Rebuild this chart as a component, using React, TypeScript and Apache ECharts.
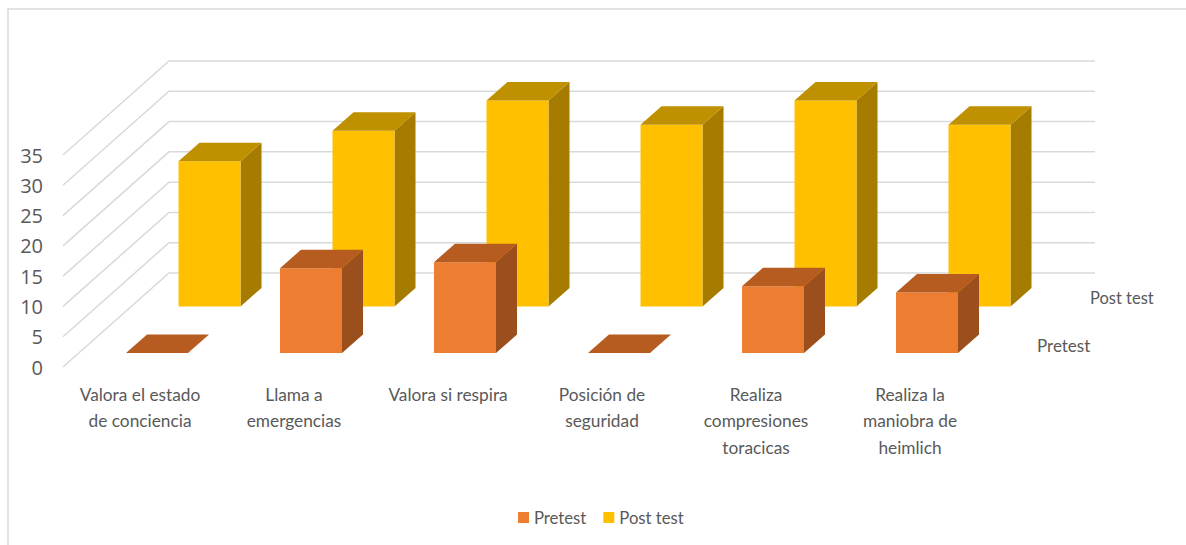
import React, { useEffect, useRef } from "react";
import * as echarts from "echarts";

const categories = [
  "Valora el estado\nde conciencia",
  "Llama a\nemergencias",
  "Valora si respira",
  "Posición de\nseguridad",
  "Realiza\ncompresiones\ntoracicas",
  "Realiza la\nmaniobra de\nheimlich",
];
const pretest = [0, 14, 15, 0, 11, 10];
const postTest = [24, 29, 34, 30, 34, 30];
const wallTicks = [0, 5, 10, 15, 20, 25, 30, 35];

const FONT = "Lato, 'Open Sans', sans-serif";
const TICK_FONT = "'Open Sans', Lato, sans-serif";
const TEXT = "#595959";
const WALL = "#d9d9d9";

// Oblique projection of the chart's depth axis, in pixels.
const WALL_DX = 106;
const WALL_DY = 94;
const WALL_OVERHANG = 2;
const BAR_HALF = 31;
const BAR_DX = 21;
const BAR_DY = 18.5;

function poly(points: number[][], fill: string) {
  return { type: "polygon", shape: { points }, style: { fill, stroke: null } };
}

// One box: the row offset shifts it along the depth axis, then the value sets its height.
function boxRenderer(rowDx: number, rowDy: number, front: string, top: string, side: string) {
  return (_params: any, api: any) => {
    const cat = api.value(0);
    const [cx, zeroY] = api.coord([cat, 0]);
    const [, valueY] = api.coord([cat, api.value(1)]);
    const l = cx + rowDx - BAR_HALF;
    const r = cx + rowDx + BAR_HALF;
    const b = zeroY - rowDy;
    const t = valueY - rowDy;
    const children: any[] = [];
    if (b - t > 0.01) {
      children.push(poly([[r, t], [r + BAR_DX, t - BAR_DY], [r + BAR_DX, b - BAR_DY], [r, b]], side));
      children.push({ type: "rect", shape: { x: l, y: t, width: r - l, height: b - t }, style: { fill: front } });
    }
    children.push(poly([[l, t], [l + BAR_DX, t - BAR_DY], [r + BAR_DX, t - BAR_DY], [r, t]], top));
    return { type: "group", children };
  };
}

// Side wall diagonal and back wall line for a value tick.
function wallRenderer(params: any, api: any) {
  const sys = params.coordSys;
  const y = api.coord([0, api.value(1)])[1];
  return {
    type: "polyline",
    shape: {
      points: [
        [sys.x, y],
        [sys.x + WALL_DX, y - WALL_DY],
        [sys.x + sys.width + WALL_DX + WALL_OVERHANG, y - WALL_DY],
      ],
    },
    style: { stroke: WALL, lineWidth: 1.5, fill: null },
  };
}

export default function App() {
  const ref = useRef<HTMLDivElement>(null);

  useEffect(() => {
    const chart = echarts.init(ref.current!, undefined, { renderer: "svg" });
    chart.setOption({
      animation: false,
      backgroundColor: "#ffffff",
      textStyle: { fontFamily: FONT },
      legend: {
        data: ["Pretest", "Post test"],
        left: 513,
        top: 504,
        itemWidth: 11,
        itemHeight: 11,
        itemGap: 17,
        icon: "rect",
        textStyle: { color: TEXT, fontSize: 16.7, fontFamily: FONT },
      },
      grid: { left: 63, top: 155, width: 924, height: 212 },
      xAxis: {
        type: "category",
        data: categories,
        axisLine: { show: false },
        axisTick: { show: false },
        splitLine: { show: false },
        axisLabel: {
          interval: 0,
          color: TEXT,
          fontFamily: FONT,
          fontSize: 17.3,
          lineHeight: 26.5,
          margin: 14,
        },
      },
      yAxis: {
        type: "value",
        min: 0,
        max: 35,
        interval: 5,
        axisLine: { show: false },
        axisTick: { show: false },
        splitLine: { show: false },
        axisLabel: { color: TEXT, fontFamily: TICK_FONT, fontSize: 20, margin: 20 },
      },
      graphic: [
        {
          type: "rect",
          shape: { x: 8, y: 9, width: 1400, height: 800 },
          style: { fill: "none", stroke: WALL, lineWidth: 1.5 },
          silent: true,
        },
        {
          type: "text",
          x: 1090,
          y: 298,
          style: { text: "Post test", fill: TEXT, font: `16.5px ${FONT}`, textVerticalAlign: "middle" },
        },
        {
          type: "text",
          x: 1037,
          y: 345,
          style: { text: "Pretest", fill: TEXT, font: `17px ${FONT}`, textVerticalAlign: "middle" },
        },
      ],
      series: [
        {
          type: "custom",
          name: "walls",
          z: 1,
          clip: false,
          silent: true,
          renderItem: wallRenderer,
          data: wallTicks.map((v) => [0, v]),
        },
        {
          type: "custom",
          name: "Post test",
          z: 2,
          clip: false,
          itemStyle: { color: "#FFC000" },
          renderItem: boxRenderer(69.5, 60.5, "#FFC000", "#BF9000", "#A67C00"),
          data: postTest.map((v, i) => [i, v]),
        },
        {
          type: "custom",
          name: "Pretest",
          z: 3,
          clip: false,
          itemStyle: { color: "#ED7D31" },
          renderItem: boxRenderer(17, 14, "#ED7D31", "#B65C20", "#9A4F1C"),
          data: pretest.map((v, i) => [i, v]),
        },
      ],
    });
    return () => chart.dispose();
  }, []);

  return (
    <div
      ref={ref}
      style={{ position: "fixed", left: 0, top: 0, width: 1186, height: 545 }}
    />
  );
}
